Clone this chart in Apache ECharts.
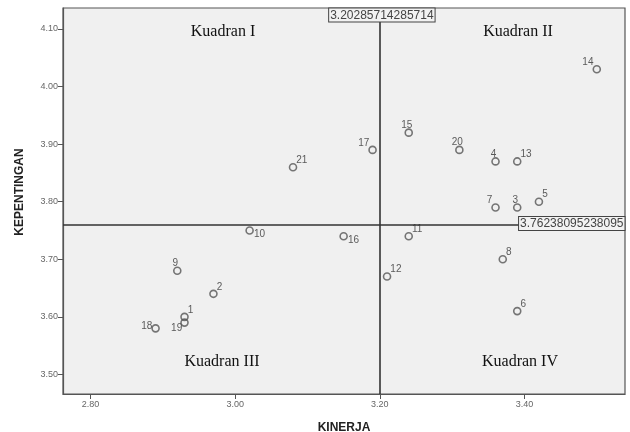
<!DOCTYPE html>
<html>
<head>
<meta charset="utf-8">
<script src="https://cdn.jsdelivr.net/npm/echarts@6/dist/echarts.min.js"></script>
<style>html,body{margin:0;padding:0;background:#fff}#c{width:630px;height:432px}</style>
</head>
<body>
<div id="c"></div>
<script>
// ---- data ----
var ids       = [1, 2, 3, 4, 5, 6, 7, 8, 9, 10, 11, 12, 13, 14, 15, 16, 17, 18, 19, 20, 21];
var kinerja   = [2.93, 2.97, 3.39, 3.36, 3.42, 3.39, 3.36, 3.37, 2.92, 3.02, 3.24, 3.21, 3.39, 3.50, 3.24, 3.15, 3.19, 2.89, 2.93, 3.31, 3.08];
var kepentingan = [3.60, 3.64, 3.79, 3.87, 3.80, 3.61, 3.79, 3.70, 3.68, 3.75, 3.74, 3.67, 3.87, 4.03, 3.92, 3.74, 3.89, 3.58, 3.59, 3.89, 3.86];
var meanX = 3.20285714285714;
var meanY = 3.76238095238095;
var xTicks = [2.80, 3.00, 3.20, 3.40];
var yTicks = [3.50, 3.60, 3.70, 3.80, 3.90, 4.00, 4.10];
var quadrantNames = ['Kuadran I', 'Kuadran II', 'Kuadran III', 'Kuadran IV'];
var xName = 'KINERJA';
var yName = 'KEPENTINGAN';

// ---- label placement styles (per point id) ----
var placeStyle = {
  tr: {position: 'right', distance: 0, offset: [-1, -7]},
  tl: {position: 'left', distance: 0, offset: [1, -7]},
  t:  {position: 'top', distance: 0, offset: [-2, 2]},
  br: {position: 'right', distance: 0, offset: [0, 4]},
  bl: {position: 'left', distance: 0, offset: [2, 6]},
  l:  {position: 'left', distance: 0, offset: [1, -2]}
};
var placeOf = {1:'tr',2:'tr',3:'t',4:'t',5:'tr',6:'tr',7:'tl',8:'tr',9:'t',10:'br',11:'tr',12:'tr',13:'tr',14:'tl',15:'t',16:'br',17:'tl',18:'l',19:'bl',20:'t',21:'tr'};

var xMin = 2.762, xMax = 3.539, yMin = 3.466, yMax = 4.1365;

var pts = ids.map(function (id, i) {
  var p = placeStyle[placeOf[id]];
  return {
    value: [kinerja[i], kepentingan[i]],
    name: String(id),
    label: {position: p.position, distance: p.distance, offset: p.offset}
  };
});

var chart = echarts.init(document.getElementById('c'), null, {renderer: 'canvas'});
var labelFont = 'Liberation Sans, Arial, sans-serif';
var boxLabel = {
  show: true,
  color: '#444',
  fontSize: 12,
  lineHeight: 12,
  fontFamily: labelFont,
  backgroundColor: '#f2f2f2',
  borderColor: '#444',
  borderWidth: 1,
  padding: [1, 1, 0, 1]
};
var option = {
  backgroundColor: '#ffffff',
  animation: false,
  grid: {left: 63, right: 5, top: 8, bottom: 38, outerBoundsMode: 'none', containLabel: false,
    show: true, backgroundColor: '#f0f0f0', borderColor: '#555', borderWidth: 1.2},
  xAxis: {
    type: 'value', min: xMin, max: xMax,
    name: xName, nameLocation: 'middle', nameGap: 28,
    nameTextStyle: {fontFamily: labelFont, fontWeight: 'bold', fontSize: 12, color: '#222'},
    splitLine: {show: false},
    axisLine: {show: true, onZero: false, lineStyle: {color: '#555', width: 1.2}},
    axisTick: {show: true, length: 5, customValues: xTicks, lineStyle: {color: '#555'}},
    axisLabel: {customValues: xTicks, fontSize: 9, color: '#666', fontFamily: labelFont, margin: 6,
      formatter: function (v) { return v.toFixed(2); }}
  },
  yAxis: {
    type: 'value', min: yMin, max: yMax,
    name: yName, nameLocation: 'middle', nameGap: 37, nameRotate: 90,
    nameTextStyle: {fontFamily: labelFont, fontWeight: 'bold', fontSize: 12, color: '#222', padding: [0, 0, 0, 18]},
    splitLine: {show: false},
    axisLine: {show: true, onZero: false, lineStyle: {color: '#555', width: 1.2}},
    axisTick: {show: true, length: 5, customValues: yTicks, lineStyle: {color: '#555'}},
    axisLabel: {customValues: yTicks, fontSize: 9, color: '#666', fontFamily: labelFont, margin: 5,
      formatter: function (v) { return v.toFixed(2); }}
  },
  series: [{
    type: 'scatter',
    symbol: 'circle',
    symbolSize: 7,
    itemStyle: {color: 'rgba(0,0,0,0)', borderColor: '#555', borderWidth: 1.6},
    label: {show: true, formatter: '{b}', fontSize: 10, fontFamily: labelFont, color: '#333'},
    data: pts,
    markLine: {
      silent: true, symbol: 'none', animation: false,
      lineStyle: {color: '#333', width: 1.6, type: 'solid'},
      label: {show: false},
      data: [{xAxis: meanX}, {yAxis: meanY}]
    },
    markPoint: {
      silent: true, symbol: 'rect', symbolSize: 1, animation: false,
      itemStyle: {color: 'rgba(0,0,0,0)', borderWidth: 0},
      data: [
        {coord: [meanX, yMax], label: Object.assign({}, boxLabel, {position: 'bottom', distance: 0, formatter: String(meanX)})},
        {coord: [xMax, meanY], label: Object.assign({}, boxLabel, {position: 'left', distance: 0, formatter: String(meanY)})}
      ]
    }
  }],
  graphic: [
    {type: 'text', x: 223, y: 32, style: {text: quadrantNames[0], font: '16px "Liberation Serif", "Times New Roman", serif', fill: '#111', textAlign: 'center', textVerticalAlign: 'middle'}},
    {type: 'text', x: 518, y: 32, style: {text: quadrantNames[1], font: '16px "Liberation Serif", "Times New Roman", serif', fill: '#111', textAlign: 'center', textVerticalAlign: 'middle'}},
    {type: 'text', x: 222, y: 362, style: {text: quadrantNames[2], font: '16px "Liberation Serif", "Times New Roman", serif', fill: '#111', textAlign: 'center', textVerticalAlign: 'middle'}},
    {type: 'text', x: 520, y: 362, style: {text: quadrantNames[3], font: '16px "Liberation Serif", "Times New Roman", serif', fill: '#111', textAlign: 'center', textVerticalAlign: 'middle'}}
  ]
};
chart.setOption(option);
</script>
</body>
</html>
